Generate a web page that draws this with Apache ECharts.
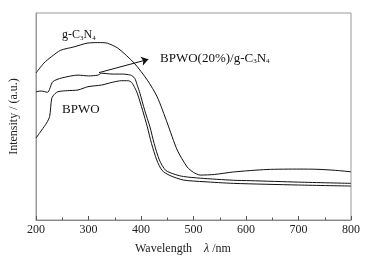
<!DOCTYPE html>
<html>
<head>
<meta charset="utf-8">
<script src="https://cdn.jsdelivr.net/npm/echarts@6/dist/echarts.min.js"></script>
<style>
  html, body { margin: 0; padding: 0; background: #fff; }
  #chart { width: 369px; height: 263px; }
</style>
</head>
<body>
<div id="chart"></div>
<script>
// y is arbitrary intensity (0..100 of the frame)
var gcnX = [200, 215, 230, 247, 272, 299, 323, 336, 356, 387, 412, 431, 450, 469, 488, 500, 513, 540, 576, 640, 703, 735, 770, 800];
var gcnY = [71, 75.8, 79, 82, 83.6, 85.5, 85.7, 85.4, 83, 75.8, 67.6, 59.4, 46.9, 33.8, 25.6, 23, 21.7, 22, 23.2, 24.4, 24.6, 24.5, 24, 23.3];

var compX = [200, 210, 222, 232, 249, 280, 300, 318, 325, 345, 363, 380, 388, 393, 398, 407, 417, 425, 435, 447, 465, 481, 513, 576, 608, 700, 800];
var compY = [62, 62.3, 61.7, 66.8, 68.6, 70, 69.6, 70, 70.9, 70.5, 70.5, 70, 68.5, 65, 61.2, 53, 45, 37, 29, 24, 22, 21, 20.2, 19.2, 19, 18.3, 17.7];

var bpwoX = [200, 211, 220, 226, 230, 236, 242, 260, 280, 299, 325, 345, 363, 375, 382, 388, 393, 403, 412, 420, 430, 440, 455, 481, 520, 576, 700, 800];
var bpwoY = [39.6, 43.5, 46.8, 50, 58.8, 61, 62, 62.5, 62.8, 64.4, 65.2, 66.5, 67.3, 67.3, 66.5, 64, 61.2, 53, 45, 37, 29, 24, 21.5, 19.3, 18.5, 17.7, 16.9, 16.4];

var xTicks = [200, 300, 400, 500, 600, 700, 800];
var arrowFrom = [320, 71.2];
var arrowTo = [414, 77.6];

function pairs(xs, ys) {
  var res = [];
  for (var i = 0; i < xs.length; i++) {
    res.push([xs[i], ys[i]]);
  }
  return res;
}

var font = 'Liberation Serif';
var chart = echarts.init(document.getElementById('chart'));

var lineStyle = { color: '#111', width: 1 };

var option = {
  backgroundColor: '#fff',
  animation: false,
  grid: {
    left: 35, right: 18, top: 13, bottom: 43,
    show: true, borderColor: '#999', borderWidth: 1
  },
  xAxis: {
    type: 'value',
    min: xTicks[0],
    max: xTicks[xTicks.length - 1],
    interval: 100,
    axisLine: { show: true, lineStyle: { color: '#888', width: 1 } },
    axisTick: { show: true, inside: true, length: 4, lineStyle: { color: '#555' } },
    minorTick: { show: true, splitNumber: 2, length: 2.5, lineStyle: { color: '#555' } },
    splitLine: { show: false },
    axisLabel: { color: '#222', fontFamily: font, fontSize: 12, margin: 4 }
  },
  yAxis: {
    type: 'value',
    min: 0,
    max: 100,
    name: 'Intensity / (a.u.)',
    nameLocation: 'middle',
    nameGap: 16,
    nameTextStyle: { color: '#222', fontFamily: font, fontSize: 12 },
    axisLine: { show: true, lineStyle: { color: '#999' } },
    axisTick: { show: false },
    axisLabel: { show: false },
    splitLine: { show: false }
  },
  graphic: [
    {
      type: 'text', left: 62, top: 29,
      style: {
        text: '{a|g-C}{s|3}{a|N}{s|4}',
        rich: {
          a: { fontFamily: font, fontSize: 12, fill: '#111' },
          s: { fontFamily: font, fontSize: 7, fill: '#111', verticalAlign: 'bottom', padding: [6, 0, 0, 0] }
        }
      }
    },
    {
      type: 'text', left: 160, top: 52,
      style: {
        text: '{a|BPWO(20%)/g-C}{s|3}{a|N}{s|4}',
        rich: {
          a: { fontFamily: font, fontSize: 13, fill: '#111' },
          s: { fontFamily: font, fontSize: 7, fill: '#111', verticalAlign: 'bottom', padding: [6, 0, 0, 0] }
        }
      }
    },
    {
      type: 'text', left: 62, top: 103,
      style: { text: 'BPWO', fontFamily: font, fontSize: 13, fill: '#111' }
    },
    {
      type: 'text', left: 135, top: 243,
      style: {
        text: '{a|Wavelength    }{b|λ}{a| /nm}',
        rich: {
          a: { fontFamily: font, fontSize: 12, fill: '#222' },
          b: { fontFamily: font, fontSize: 12, fontStyle: 'italic', fill: '#222' }
        }
      }
    }
  ],
  series: [
    {
      name: 'g-C3N4', type: 'line', data: pairs(gcnX, gcnY),
      showSymbol: false, smooth: 0.25, lineStyle: lineStyle
    },
    {
      name: 'BPWO(20%)/g-C3N4', type: 'line', data: pairs(compX, compY),
      showSymbol: false, smooth: 0.25, lineStyle: lineStyle,
      markLine: {
        silent: true,
        symbol: ['none', 'arrow'],
        symbolSize: 7,
        label: { show: false },
        lineStyle: { color: '#111', width: 1, type: 'solid' },
        data: [[{ coord: arrowFrom }, { coord: arrowTo }]]
      }
    },
    {
      name: 'BPWO', type: 'line', data: pairs(bpwoX, bpwoY),
      showSymbol: false, smooth: 0.25, lineStyle: lineStyle
    }
  ]
};

chart.setOption(option);
</script>
</body>
</html>
